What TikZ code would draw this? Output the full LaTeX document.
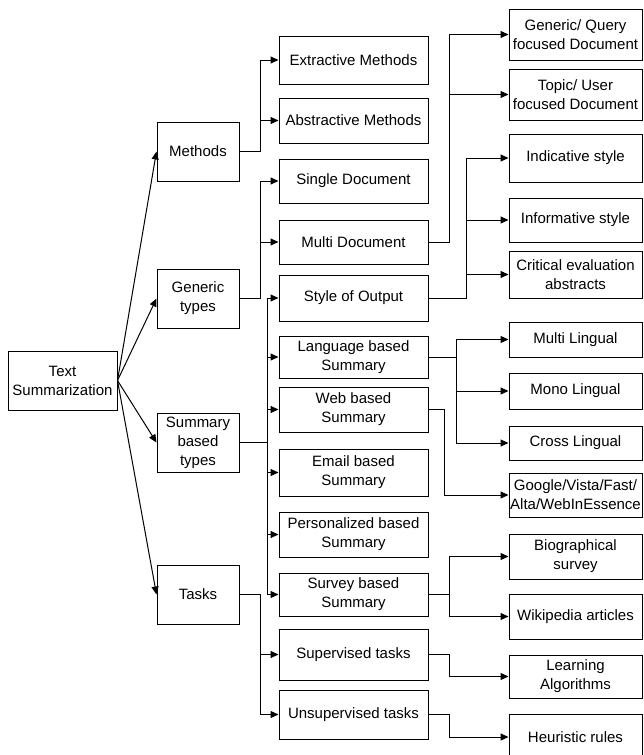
\documentclass[tikz,border=0pt]{standalone}
\usepackage{fontspec}
\setmainfont{Liberation Sans}
\usetikzlibrary{arrows.meta}

\begin{document}
\begin{tikzpicture}[x=1pt,y=-1pt]
        % Define the style for the nodes
        \tikzset{
          box/.style={draw, line width=1pt, align=center, inner sep=0pt,
            font=\fontsize{15}{19}\selectfont},
          colA/.style={box, minimum width=82pt, minimum height=59pt},
          colB/.style={box, minimum width=149pt},
          colC/.style={box, minimum width=133pt},
          arr/.style={line width=1pt, -{Triangle[length=8pt,width=7pt]}}
        }
        \useasboundingbox (0,0) rectangle (643,755);

        % Nodes
        \node[box, minimum width=109pt, minimum height=59pt] (text) at (62.5,380.5) {Text\\Summarization};

        \node[colA] (methods) at (198,151.5) {Methods};
        \node[colA] (generic) at (198,298.5) {Generic\\types};
        \node[colA] (sumtypes) at (198,442.5) {Summary\\based\\types};
        \node[colA] (tasks) at (198,594.5) {Tasks};

        \node[colB, minimum height=48pt] (extr) at (353.5,60) {Extractive Methods};
        \node[colB, minimum height=45pt] (abstr) at (353.5,120.5) {Abstractive Methods};
        \node[colB, minimum height=44pt] (single) at (353.5,181) {Single Document};
        \node[colB, minimum height=44pt] (multi) at (353.5,242) {Multi Document};
        \node[colB, minimum height=46pt] (styleout) at (353.5,298) {Style of Output};
        \node[colB, minimum height=42pt] (lang) at (353.5,357) {Language based\\Summary};
        \node[colB, minimum height=45pt] (web) at (353.5,409.5) {Web based\\Summary};
        \node[colB, minimum height=47pt] (email) at (353.5,472.5) {Email based\\Summary};
        \node[colB, minimum height=45pt] (pers) at (353.5,534.5) {Personalized based\\Summary};
        \node[colB, minimum height=43pt] (survey) at (353.5,594.5) {Survey based\\Summary};
        \node[colB, minimum height=51pt] (superv) at (353.5,654.5) {Supervised tasks};
        \node[colB, minimum height=49pt] (unsup) at (353.5,714.5) {Unsupervised tasks};

        \node[colC, minimum height=51pt] (genq) at (575.5,34.5) {Generic/ Query\\focused Document};
        \node[colC, minimum height=51pt] (topic) at (575.5,94.5) {Topic/ User\\focused Document};
        \node[colC, minimum height=48pt] (indic) at (575.5,158) {Indicative style};
        \node[colC, minimum height=44pt] (inform) at (575.5,220) {Informative style};
        \node[colC, minimum height=47pt] (crit) at (575.5,274.5) {Critical evaluation\\abstracts};
        \node[colC, minimum height=35pt] (multil) at (575.5,339.5) {Multi Lingual};
        \node[colC, minimum height=36pt] (mono) at (575.5,391) {Mono Lingual};
        \node[colC, minimum height=34pt] (cross) at (575.5,443) {Cross Lingual};
        \node[colC, minimum height=44pt] (google) at (575.5,495) {Google/Vista/Fast/\\Alta/WebInEssence};
        \node[colC, minimum height=45pt] (bio) at (575.5,556.5) {Biographical\\survey};
        \node[colC, minimum height=45pt] (wiki) at (575.5,616.5) {Wikipedia articles};
        \node[colC, minimum height=43pt] (learn) at (575.5,676.5) {Learning\\Algorithms};
        \node[colC, minimum height=46pt] (heur) at (575.5,737) {Heuristic rules};

        % Edges
        \draw[arr] (text.east) -- (methods.west);
        \draw[arr] (text.east) -- (generic.west);
        \draw[arr] (text.east) -- (sumtypes.west);
        \draw[arr] (text.east) -- (tasks.west);

        \draw[arr] (methods.east) -- ++(21,0) |- (extr);
        \draw[arr] (methods.east) -- ++(21,0) |- (abstr);
        \draw[arr] (generic.east) -- ++(21,0) |- (single);
        \draw[arr] (generic.east) -- ++(21,0) |- (multi);
        \draw[arr] (sumtypes.east) -- ++(28,0) |- (styleout);
        \draw[arr] (sumtypes.east) -- ++(28,0) |- (lang);
        \draw[arr] (sumtypes.east) -- ++(28,0) |- (web);
        \draw[arr] (sumtypes.east) -- ++(28,0) |- (email);
        \draw[arr] (sumtypes.east) -- ++(28,0) |- (pers);
        \draw[arr] (sumtypes.east) -- ++(28,0) |- (survey);
        \draw[arr] (tasks.east) -- ++(21,0) |- (superv);
        \draw[arr] (tasks.east) -- ++(21,0) |- (unsup);

        \draw[arr] (multi.east) -- ++(21,0) |- (genq);
        \draw[arr] (multi.east) -- ++(21,0) |- (topic);
        \draw[arr] (styleout.east) -- ++(38,0) |- (indic);
        \draw[arr] (styleout.east) -- ++(38,0) |- (inform);
        \draw[arr] (styleout.east) -- ++(38,0) |- (crit);
        \draw[arr] (lang.east) -- ++(28,0) |- (multil);
        \draw[arr] (lang.east) -- ++(28,0) |- (mono);
        \draw[arr] (lang.east) -- ++(28,0) |- (cross);
        \draw[arr] (web.east) -- ++(16,0) |- (google);
        \draw[arr] (survey.east) -- ++(21,0) |- (bio);
        \draw[arr] (survey.east) -- ++(21,0) |- (wiki);
        \draw[arr] (superv.east) -- ++(21,0) |- (learn);
        \draw[arr] (unsup.east) -- ++(21,0) |- (heur);
    \end{tikzpicture}
\end{document}
